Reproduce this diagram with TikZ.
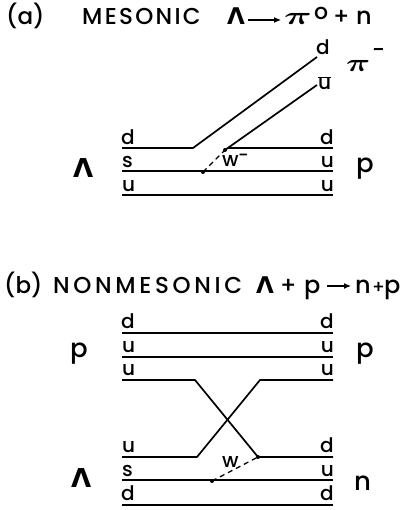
\documentclass[tikz,border=0pt]{standalone}
\usepackage{fontspec}
\setmainfont{Poppins Medium}
\newfontfamily\gr{DejaVu Sans Bold}
\usetikzlibrary{arrows.meta}
\begin{document}
\begin{tikzpicture}[x=1pt,y=-1pt,
  q/.style={line width=1.7pt},
  wline/.style={line width=1.3pt, dash pattern=on 5pt off 4pt},
  lab/.style={font=\fontsize{20}{20}\selectfont, inner sep=0pt},
  big/.style={font=\fontsize{26}{26}\selectfont\gr, inner sep=0pt, anchor=base west},
  bigp/.style={font=\fontsize{26}{26}\selectfont, inner sep=0pt, anchor=base west},
  ttl/.style={font=\fontsize{23}{23}\selectfont\addfontfeature{LetterSpace=10}, inner sep=0pt, anchor=base west},
  ttlg/.style={font=\fontsize{23}{23}\selectfont\gr, inner sep=0pt, anchor=base west},
  dot/.style={circle, fill, inner sep=0pt, minimum size=4pt},
  tarrow/.style={line width=1.1pt, -{Latex[length=7pt,width=6pt]}}]
\useasboundingbox (0,0) rectangle (399,510);
% ---------------- (a) title
\node[ttl, font=\fontsize{23}{23}\selectfont] (ta) at (6,25) {(a)};
\node[ttl] (tm) at (82,25) {MESONIC};
\node[ttlg] (tl) at (227,25) {Λ};
\coordinate (aa1) at (248,20);
\coordinate (aa2) at (281,20);
\draw[tarrow] (aa1) -- (aa2);
\node[ttlg, font=\fontsize{25}{25}\selectfont\boldmath] (tpi) at (284,25) {\scalebox{1.55}[1]{$\pi$}};
\node[ttl, font=\fontsize{22}{22}\selectfont] (tdeg) at (314,20) {o};
\node[ttl, font=\fontsize{23}{23}\selectfont] (tplus) at (333,25) {+};
\node[ttl, font=\fontsize{24}{24}\selectfont] (tn) at (356,25) {n};
% ---------------- (a) quark lines
\coordinate (a1l) at (122,148); \coordinate (a1k) at (193,148); \coordinate (a1e) at (317,57);
\coordinate (a1r0) at (228,148); \coordinate (a1r) at (333,148);
\coordinate (aub) at (225,150); \coordinate (aue) at (317,85);
\coordinate (a2l) at (122,171); \coordinate (a2r) at (333,171);
\coordinate (a3l) at (122,195); \coordinate (a3r) at (333,195);
\coordinate (aw) at (203,172);
\draw[q] (a1l) -- (a1k) -- (a1e);
\draw[q] (a1r0) -- (a1r);
\draw[q] (aub) -- (aue);
\draw[q] (a2l) -- (a2r);
\draw[q] (a3l) -- (a3r);
\draw[wline] (aw) -- (aub);
\node[dot] (dwa1) at (aw) {};
\node[dot] (dwa2) at (aub) {};
\node[lab, anchor=base west] (lw) at (222,167) {w};
\node[lab, anchor=base west, font=\fontsize{18}{18}\selectfont] (lwm) at (238,162) {\char"2212};
% labels
\node[lab, anchor=base west] (la1) at (121,145) {d};
\node[lab, anchor=base west] (la2) at (122,168) {s};
\node[lab, anchor=base west] (la3) at (122,192) {u};
\node[lab, anchor=base east] (ra1) at (334,145) {d};
\node[lab, anchor=base east] (ra2) at (334,168) {u};
\node[lab, anchor=base east] (ra3) at (334,192) {u};
\node[lab, anchor=base west] (td) at (316,55) {d};
\node[lab, anchor=base west] (tu) at (318,90) {$\overline{\hbox{u}}$};
\node[ttlg, font=\fontsize{28}{28}\selectfont\boldmath] (pim) at (346,72) {\scalebox{1.35}[1]{$\pi$}};
\node[bigp, font=\fontsize{22}{22}\selectfont] (pimm) at (372,58) {\char"2212};
\node[big] (lamA) at (73,178) {Λ};
\node[bigp] (pA) at (356,173) {p};
% ---------------- (b) title
\node[ttl, font=\fontsize{23}{23}\selectfont] (tb) at (4,293) {(b)};
\node[ttl, font=\fontsize{23}{23}\selectfont\addfontfeature{LetterSpace=16}] (tnm) at (53,293) {NONMESONIC};
\node[ttlg] (tl2) at (256,293) {Λ};
\node[ttl, font=\fontsize{23}{23}\selectfont] (tp1) at (280,293) {+};
\node[ttl, font=\fontsize{24}{24}\selectfont] (tpp) at (304,293) {p};
\coordinate (ba1) at (327,286);
\coordinate (ba2) at (351,286);
\draw[tarrow] (ba1) -- (ba2);
\node[ttl, font=\fontsize{24}{24}\selectfont] (tn2) at (355,293) {n};
\node[ttl, font=\fontsize{18}{18}\selectfont] (tp2) at (372,293) {+};
\node[ttl, font=\fontsize{24}{24}\selectfont] (tpp2) at (384,293) {p};
% ---------------- (b) quark lines
\coordinate (b1l) at (122,333); \coordinate (b1r) at (333,333);
\coordinate (b2l) at (122,357); \coordinate (b2r) at (333,357);
\coordinate (b3l) at (122,380); \coordinate (b3k) at (195,380);
\coordinate (b3m) at (260,380); \coordinate (b3r) at (333,380);
\coordinate (b4l) at (122,457); \coordinate (b4k) at (197,457);
\coordinate (b4m) at (258,457); \coordinate (b4r) at (333,457);
\coordinate (b5l) at (122,480); \coordinate (b5r) at (333,480);
\coordinate (b6l) at (122,505); \coordinate (b6r) at (333,505);
\coordinate (bw) at (212,481);
\draw[q] (b1l) -- (b1r);
\draw[q] (b2l) -- (b2r);
\draw[q] (b3l) -- (b3k) -- (b4m) -- (b4r);
\draw[q] (b4l) -- (b4k) -- (b3m) -- (b3r);
\draw[q] (b5l) -- (b5r);
\draw[q] (b6l) -- (b6r);
\draw[wline] (bw) -- (b4m);
\node[dot] (dwb1) at (bw) {};
\node[dot] (dwb2) at (b4m) {};
\node[lab, anchor=base west] (lwb) at (222,467) {w};
% labels
\node[lab, anchor=base west] (lb1) at (121,328) {d};
\node[lab, anchor=base west] (lb2) at (122,352) {u};
\node[lab, anchor=base west] (lb3) at (122,375) {u};
\node[lab, anchor=base west] (lb4) at (122,452) {u};
\node[lab, anchor=base west] (lb5) at (122,476) {s};
\node[lab, anchor=base west] (lb6) at (121,500) {d};
\node[lab, anchor=base east] (rb1) at (334,328) {d};
\node[lab, anchor=base east] (rb2) at (334,352) {u};
\node[lab, anchor=base east] (rb3) at (334,375) {u};
\node[lab, anchor=base east] (rb4) at (334,452) {d};
\node[lab, anchor=base east] (rb5) at (334,476) {u};
\node[lab, anchor=base east] (rb6) at (334,500) {d};
\node[bigp] (pB1) at (70,357) {p};
\node[bigp] (pB2) at (356,357) {p};
\node[big] (lamB) at (71,487) {Λ};
\node[bigp] (nB) at (354,490) {n};
\end{tikzpicture}
\end{document}
